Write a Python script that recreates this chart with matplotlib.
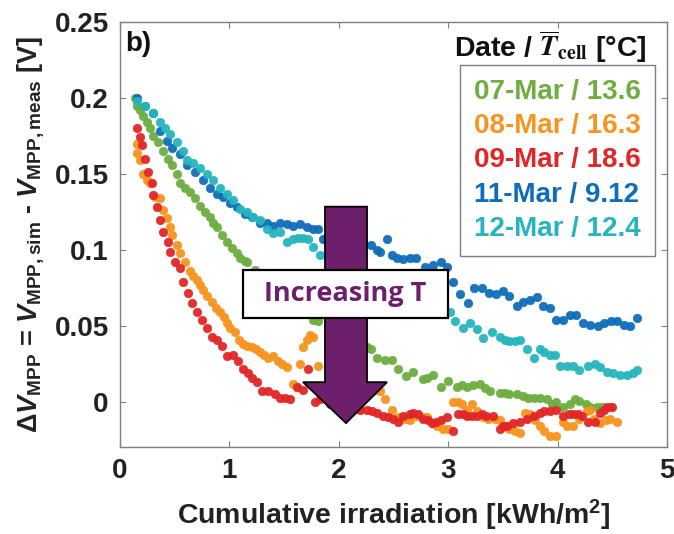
import matplotlib
matplotlib.use("Agg")
import matplotlib.pyplot as plt
from matplotlib.patches import Polygon, Rectangle
from matplotlib.lines import Line2D

plt.rcParams['font.family'] = ['Liberation Sans', 'DejaVu Sans']
plt.rcParams['font.weight'] = 'bold'
plt.rcParams['mathtext.fontset'] = 'custom'
plt.rcParams['mathtext.rm'] = 'Liberation Sans:bold'
plt.rcParams['mathtext.bf'] = 'Liberation Sans:bold'
plt.rcParams['mathtext.it'] = 'Liberation Sans:bold:italic'

# ---- data: cumulative irradiation [kWh/m2] vs. dV_MPP [V] ----
dates = ['07-Mar', '08-Mar', '09-Mar', '11-Mar', '12-Mar']
t_cell = ['13.6', '16.3', '18.6', '9.12', '12.4']
colors = ['#6dae3f', '#f7941d', '#e22526', '#0f6cba', '#25b5be']

x_0703 = [0.14, 0.16, 0.18, 0.21, 0.25, 0.27, 0.30, 0.35, 0.39, 0.44, 0.48, 0.52, 0.55, 0.59,
          0.64, 0.69, 0.73, 0.78, 0.82, 0.85, 0.89, 0.93, 0.98, 1.02, 1.07, 1.10, 1.14, 1.16,
          1.23, 1.33, 1.42, 1.51, 1.60, 1.69, 1.76, 1.81, 1.92, 2.01, 2.10, 2.19, 2.26, 2.29,
          2.35, 2.42, 2.49, 2.54, 2.61, 2.68, 2.77, 2.81, 2.86, 2.93, 3.00, 3.08, 3.13, 3.17,
          3.23, 3.29, 3.34, 3.38, 3.47, 3.52, 3.56, 3.63, 3.68, 3.73, 3.78, 3.84, 3.90, 3.95,
          3.99, 4.05, 4.11, 4.16, 4.20, 4.26, 4.30, 4.36, 4.41, 4.48]
y_0703 = [0.200, 0.195, 0.192, 0.188, 0.184, 0.180, 0.175, 0.171, 0.165, 0.160, 0.156, 0.150,
          0.144, 0.141, 0.138, 0.134, 0.129, 0.125, 0.122, 0.118, 0.115, 0.110, 0.105, 0.101,
          0.098, 0.095, 0.093, 0.092, 0.087, 0.080, 0.074, 0.069, 0.064, 0.059, 0.054, 0.053,
          0.048, 0.044, 0.041, 0.038, 0.036, 0.035, 0.029, 0.028, 0.028, 0.022, 0.017, 0.020,
          0.015, 0.016, 0.018, 0.010, 0.014, 0.010, 0.011, 0.010, 0.011, 0.012, 0.009, 0.007,
          0.006, 0.006, 0.005, 0.005, 0.004, 0.003, 0.003, 0.003, 0.002, -0.001, 0.000, -0.003,
          -0.001, 0.002, 0.001, -0.001, -0.003, -0.003, -0.003, -0.003]

x_0803 = [0.16, 0.16, 0.18, 0.21, 0.25, 0.27, 0.32, 0.37, 0.39, 0.43, 0.46, 0.48, 0.52, 0.55,
          0.59, 0.64, 0.67, 0.70, 0.73, 0.76, 0.80, 0.84, 0.88, 0.91, 0.95, 0.98, 1.01, 1.05,
          1.09, 1.12, 1.16, 1.21, 1.24, 1.28, 1.32, 1.35, 1.40, 1.44, 1.48, 1.53, 1.58, 1.62,
          1.65, 1.67, 1.71, 1.74, 1.76, 1.81, 1.92, 2.06, 2.19, 2.33, 2.38, 2.42, 2.49, 2.54,
          2.59, 2.62, 2.65, 2.71, 2.77, 2.81, 2.85, 2.90, 2.95, 3.00, 3.04, 3.09, 3.13, 3.17,
          3.22, 3.26, 3.32, 3.36, 3.43, 3.47, 3.52, 3.56, 3.61, 3.66, 3.70, 3.75, 3.79, 3.84,
          3.88, 3.93, 3.99, 4.05, 4.09, 4.14, 4.20, 4.27, 4.30, 4.33, 4.39, 4.44, 4.48, 4.54]
y_0803 = [0.170, 0.164, 0.159, 0.150, 0.146, 0.144, 0.135, 0.134, 0.126, 0.121, 0.115, 0.110,
          0.103, 0.098, 0.092, 0.086, 0.083, 0.080, 0.077, 0.074, 0.070, 0.066, 0.062, 0.059,
          0.056, 0.052, 0.049, 0.046, 0.041, 0.038, 0.037, 0.036, 0.035, 0.033, 0.031, 0.029,
          0.030, 0.027, 0.025, 0.023, 0.012, 0.010, 0.025, 0.036, 0.041, 0.044, 0.043, 0.024,
          0.015, 0.010, 0.008, 0.008, 0.007, 0.002, -0.005, -0.010, -0.011, -0.011, -0.012,
          -0.009, -0.010, -0.010, -0.014, -0.016, -0.018, -0.018, 0.000, 0.000, -0.001, -0.005,
          -0.001, -0.006, -0.010, -0.011, -0.011, -0.012, -0.016, -0.018, -0.019, -0.020, -0.007,
          -0.008, -0.012, -0.016, -0.019, -0.022, -0.022, -0.013, -0.016, -0.016, -0.011, -0.006,
          -0.005, -0.011, -0.014, -0.012, -0.011, -0.013]

x_0903 = [0.16, 0.18, 0.20, 0.23, 0.26, 0.29, 0.30, 0.34, 0.37, 0.39, 0.44, 0.46, 0.50, 0.55,
          0.58, 0.62, 0.66, 0.70, 0.75, 0.80, 0.84, 0.89, 0.93, 0.98, 1.03, 1.08, 1.12, 1.17,
          1.21, 1.25, 1.30, 1.35, 1.42, 1.46, 1.51, 1.55, 1.62, 1.67, 1.72, 1.78, 1.83, 1.92,
          2.01, 2.10, 2.19, 2.26, 2.30, 2.35, 2.40, 2.45, 2.50, 2.54, 2.59, 2.65, 2.68, 2.72,
          2.77, 2.82, 2.85, 2.89, 2.93, 2.99, 3.04, 3.09, 3.14, 3.17, 3.22, 3.26, 3.31, 3.35,
          3.41, 3.47, 3.50, 3.54, 3.59, 3.66, 3.72, 3.78, 3.84, 3.88, 3.93, 3.99, 4.05, 4.10,
          4.14, 4.19, 4.22, 4.28, 4.34, 4.39, 4.42, 4.45, 4.50]
y_0903 = [0.180, 0.174, 0.169, 0.160, 0.151, 0.144, 0.136, 0.128, 0.120, 0.112, 0.105, 0.099,
          0.092, 0.088, 0.079, 0.072, 0.065, 0.059, 0.054, 0.049, 0.043, 0.041, 0.037, 0.030,
          0.031, 0.027, 0.022, 0.019, 0.016, 0.013, 0.007, 0.007, 0.005, 0.003, 0.003, 0.002,
          0.010, 0.008, 0.022, 0.000, 0.002, -0.001, -0.003, -0.003, -0.005, -0.005, -0.006,
          -0.007, -0.009, -0.010, -0.011, -0.013, -0.009, -0.008, -0.007, -0.008, -0.011,
          -0.012, -0.014, -0.013, -0.012, -0.010, -0.019, -0.008, -0.008, -0.009, -0.009,
          -0.009, -0.008, -0.009, -0.009, -0.018, -0.016, -0.016, -0.014, -0.013, -0.011,
          -0.009, -0.007, -0.006, -0.006, -0.005, -0.009, -0.008, -0.008, -0.008, -0.009,
          -0.013, -0.013, -0.007, -0.005, -0.003, -0.003]

x_1103 = [0.16, 0.23, 0.30, 0.37, 0.43, 0.48, 0.55, 0.61, 0.69, 0.76, 0.82, 0.89, 0.94, 1.01,
          1.07, 1.14, 1.21, 1.28, 1.34, 1.40, 1.46, 1.53, 1.58, 1.65, 1.71, 1.76, 1.81, 1.86,
          1.97, 2.06, 2.15, 2.22, 2.29, 2.35, 2.38, 2.44, 2.49, 2.53, 2.59, 2.65, 2.71, 2.79,
          2.86, 2.93, 2.99, 3.04, 3.11, 3.18, 3.24, 3.31, 3.37, 3.44, 3.50, 3.56, 3.63, 3.68,
          3.75, 3.81, 3.87, 3.93, 3.99, 4.05, 4.11, 4.17, 4.23, 4.30, 4.37, 4.42, 4.49, 4.54,
          4.61, 4.66, 4.73]
y_1103 = [0.200, 0.195, 0.190, 0.178, 0.172, 0.167, 0.163, 0.156, 0.151, 0.146, 0.141, 0.137,
          0.135, 0.131, 0.128, 0.124, 0.122, 0.118, 0.118, 0.116, 0.118, 0.117, 0.116, 0.117,
          0.115, 0.114, 0.114, 0.107, 0.108, 0.109, 0.107, 0.105, 0.103, 0.100, 0.099, 0.107,
          0.097, 0.095, 0.094, 0.095, 0.095, 0.089, 0.090, 0.092, 0.089, 0.079, 0.071, 0.065,
          0.075, 0.075, 0.072, 0.071, 0.073, 0.070, 0.063, 0.066, 0.067, 0.069, 0.063, 0.062,
          0.054, 0.054, 0.057, 0.057, 0.052, 0.051, 0.050, 0.052, 0.053, 0.053, 0.051, 0.050,
          0.055]

x_1203 = [0.16, 0.23, 0.30, 0.37, 0.41, 0.46, 0.52, 0.58, 0.61, 0.67, 0.73, 0.80, 0.85, 0.91,
          0.98, 1.03, 1.10, 1.16, 1.22, 1.28, 1.34, 1.40, 1.46, 1.53, 1.58, 1.63, 1.67, 1.72,
          1.76, 1.83, 1.92, 2.01, 2.10, 2.19, 2.29, 2.38, 2.47, 2.56, 2.65, 2.74, 2.83, 2.93,
          3.02, 3.06, 3.14, 3.20, 3.26, 3.32, 3.40, 3.47, 3.52, 3.56, 3.61, 3.66, 3.72, 3.78,
          3.84, 3.88, 3.93, 3.98, 4.02, 4.09, 4.14, 4.20, 4.28, 4.34, 4.39, 4.45, 4.51, 4.57,
          4.63, 4.69, 4.73]
y_1203 = [0.198, 0.195, 0.190, 0.184, 0.180, 0.176, 0.171, 0.165, 0.159, 0.157, 0.154, 0.150,
          0.146, 0.141, 0.137, 0.133, 0.127, 0.125, 0.122, 0.120, 0.114, 0.111, 0.112, 0.105,
          0.107, 0.108, 0.108, 0.107, 0.102, 0.097, 0.093, 0.090, 0.087, 0.084, 0.080, 0.077,
          0.074, 0.071, 0.067, 0.064, 0.062, 0.059, 0.059, 0.053, 0.049, 0.052, 0.048, 0.042,
          0.046, 0.043, 0.041, 0.040, 0.040, 0.041, 0.035, 0.029, 0.035, 0.033, 0.031, 0.031,
          0.024, 0.024, 0.024, 0.021, 0.024, 0.025, 0.023, 0.020, 0.019, 0.018, 0.018, 0.019,
          0.021]

series_x = [x_0703, x_0803, x_0903, x_1103, x_1203]
series_y = [y_0703, y_0803, y_0903, y_1103, y_1203]

xticks = [0, 1, 2, 3, 4, 5]
yticks = [0, 0.05, 0.1, 0.15, 0.2, 0.25]
ytick_labels = ['0', '0.05', '0.1', '0.15', '0.2', '0.25']

fig = plt.figure(figsize=(6.74, 5.34), dpi=100)
ax = fig.add_axes([0.178, 0.163, 0.8116, 0.796])

for xs, ys, c in zip(series_x, series_y, colors):
    ax.plot(xs, ys, linestyle='none', marker='o', markersize=6.3,
            markerfacecolor=c, markeredgecolor=c, markeredgewidth=0.3, alpha=0.95, zorder=2)

ax.set_xlim(0, 5)
ax.set_ylim(-0.0295, 0.25)
ax.set_xticks(xticks)
ax.set_xticklabels([str(t) for t in xticks])
ax.set_yticks(yticks)
ax.set_yticklabels(ytick_labels)
ax.tick_params(direction='in', length=4, width=0.8, color='#7f7f7f', labelsize=20,
               top=True, right=True, pad=8)
for lab in ax.get_xticklabels() + ax.get_yticklabels():
    lab.set_fontweight('bold')
    lab.set_color('#222222')
for sp in ax.spines.values():
    sp.set_color('#7f7f7f')
    sp.set_linewidth(1.0)

ax.set_xlabel('Cumulative irradiation [kWh/m$^{2}$]', fontsize=20.5, fontweight='bold',
              color='#222222', labelpad=10)
ax.set_ylabel('Δ$\\mathit{V}_{\\mathrm{MPP}}$ = $\\mathit{V}_{\\mathrm{MPP,sim}}$ - '
              '$\\mathit{V}_{\\mathrm{MPP,meas}}$ [V]', fontsize=19.5, fontweight='bold',
              color='#222222', labelpad=6)

ax.text(0.01, 0.978, 'b)', transform=ax.transAxes, fontsize=20, fontweight='bold',
        va='top', ha='left', color='#111111')

# legend: coloured labels, no handles
handles = [Line2D([], [], linestyle='none', marker=None) for _ in dates]
labels = [f'{d} / {t}' for d, t in zip(dates, t_cell)]
leg = ax.legend(handles, labels, loc='upper right', bbox_to_anchor=(0.978, 0.899),
                handlelength=0, handletextpad=0, labelcolor=colors, frameon=True,
                fancybox=False, edgecolor='#7f7f7f', framealpha=1,
                prop={'size': 20, 'weight': 'bold'}, labelspacing=0.3, borderpad=0.5,
                borderaxespad=0)
leg.get_frame().set_linewidth(1.0)
leg.set_zorder(5)

ax.text(0.963, 0.941, 'Date / $\\overline{T}_{\\mathbf{cell}}$ [°C]', transform=ax.transAxes,
        fontsize=20.5, fontweight='bold', ha='right', va='center', color='#111111',
        math_fontfamily='stix')

# downward arrow labelled "Increasing T"
purple = '#6e1f6c'
arrow = Polygon([(1.874, 0.1285), (2.258, 0.1285), (2.258, 0.0131), (2.441, 0.0131),
                 (2.066, -0.0138), (1.673, 0.0131), (1.874, 0.0131)],
                closed=True, facecolor=purple, edgecolor='black', linewidth=1.3, zorder=6)
ax.add_patch(arrow)
ax.add_patch(Rectangle((1.124, 0.0551), 1.874, 0.0315, facecolor='white', edgecolor='black',
                       linewidth=1.6, zorder=7))
ax.text(2.061, 0.0712, 'Increasing T', fontsize=19.5, fontweight='bold', color=purple,
        family=['Open Sans', 'DejaVu Sans'], ha='center', va='center', zorder=8)

fig.savefig('out.png', dpi=100)
